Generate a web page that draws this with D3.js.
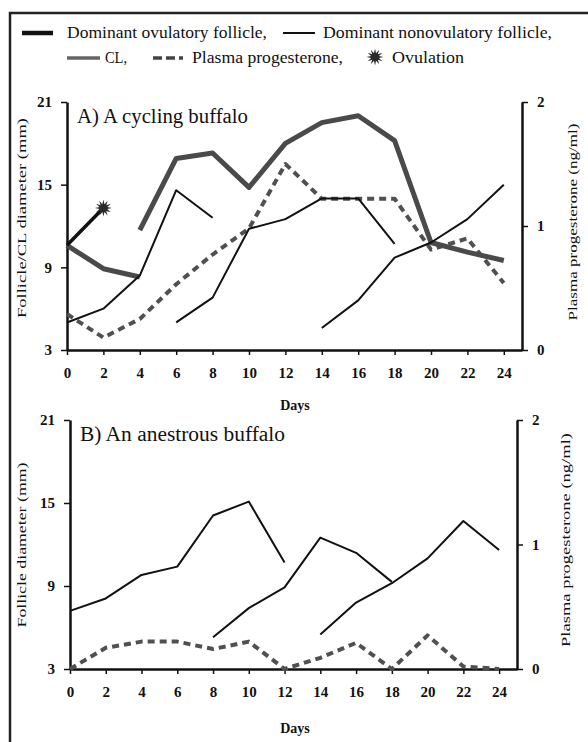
<!DOCTYPE html>
<meta charset="utf-8" />
<style>
  body { margin: 0; background: #fff; }
  svg { display: block; }
  text { font-family: 'Liberation Serif', 'Times New Roman', Times, serif; fill: #111; }
  .tick text { font-weight: bold; font-size: 15px; }
  .axis path, .axis line { stroke: #111; }
  .axis path { stroke-width: 2.5px; }
  .axis line { stroke-width: 1.5px; }
  .line { fill: none; stroke-linejoin: round; }
</style>
<svg width="588" height="742" font-family="Liberation Serif, serif"></svg>
<script src="https://d3js.org/d3.v7.min.js"></script>
<script>
  // ---- data ----
  var dayTicks = [0, 2, 4, 6, 8, 10, 12, 14, 16, 18, 20, 22, 24];
  var leftTicks = [3, 9, 15, 21];
  var rightTicks = [0, 1, 2];

  // A) cycling buffalo: [day, diameter mm]
  var aOvulatory = [[0, 10.6], [2, 13.3]];
  var aOvulation = [[2, 13.3]];
  var aCL1 = [[0, 10.6], [2, 8.9], [4, 8.3]];
  var aCL2 = [[4, 11.7], [6, 16.9], [8, 17.3], [10, 14.8], [12, 18.0], [14, 19.5],
              [16, 20.0], [18, 18.2], [20, 10.8], [22, 10.1], [24, 9.5]];
  var aNonov1 = [[0, 5.0], [2, 6.0], [4, 8.4], [6, 14.6], [8, 12.6]];
  var aNonov2 = [[6, 5.0], [8, 6.8], [10, 11.8], [12, 12.5], [14, 14.0], [16, 14.0], [18, 10.7]];
  var aNonov3 = [[14, 4.6], [16, 6.6], [18, 9.7], [20, 10.8], [22, 12.5], [24, 15.0]];
  var aP4 = [0.29, 0.10, 0.25, 0.53, 0.77, 0.98, 1.50, 1.22, 1.22, 1.22, 0.81, 0.90, 0.54];

  // B) anestrous buffalo
  var bNonov1 = [[0, 7.2], [2, 8.1], [4, 9.8], [6, 10.4], [8, 14.1], [10, 15.1], [12, 10.7]];
  var bNonov2 = [[8, 5.3], [10, 7.4], [12, 8.9], [14, 12.5], [16, 11.4], [18, 9.3]];
  var bNonov3 = [[14, 5.5], [16, 7.8], [18, 9.2], [20, 11.0], [22, 13.7], [24, 11.6]];
  var bP4 = [0.0, 0.17, 0.22, 0.22, 0.16, 0.22, 0.0, 0.09, 0.21, 0.0, 0.27, 0.02, 0.0];

  var svg = d3.select('svg');

  // frame
  svg.append('path')
    .attr('d', 'M10,742V13H588')
    .attr('fill', 'none')
    .attr('stroke', '#222')
    .attr('stroke-width', 2.5);

  var styles = {
    ovulatory: { stroke: '#111', width: 3.5, dash: null },
    nonov: { stroke: '#111', width: 2, dash: null },
    cl: { stroke: '#4a4a4a', width: 5, dash: null },
    p4: { stroke: '#505050', width: 4, dash: '7,5' },
  };

  function star(g, cx, cy) {
    var pts = d3.range(24).map(function (i) {
      return [i * Math.PI / 12, i % 2 ? 4 : 8.5];
    });
    g.append('path')
      .attr('d', d3.lineRadial().curve(d3.curveLinearClosed)(pts))
      .attr('transform', 'translate(' + cx + ',' + cy + ')')
      .attr('fill', '#2a2a2a');
  }

  // ---- legend ----
  var leg = svg.append('g');
  function legLine(x1, x2, y, st) {
    leg.append('line')
      .attr('x1', x1).attr('x2', x2).attr('y1', y).attr('y2', y)
      .attr('stroke', st.stroke)
      .attr('stroke-width', st.width)
      .attr('stroke-dasharray', st.dash);
  }
  function legText(x, y, s, len) {
    leg.append('text')
      .attr('x', x).attr('y', y)
      .attr('font-size', 16)
      .attr('textLength', len)
      .attr('lengthAdjust', 'spacingAndGlyphs')
      .text(s);
  }
  legLine(22, 53, 33, { stroke: '#111', width: 4.5 });
  legText(67, 38, 'Dominant ovulatory follicle,', 200);
  legLine(283, 315, 33, styles.nonov);
  legText(323, 38, 'Dominant nonovulatory follicle,', 229);
  legLine(67, 100, 58, { stroke: '#666', width: 3.5 });
  legText(105, 63, 'CL,', 22);
  legLine(153, 183, 58, { stroke: '#444', width: 3.5, dash: '9,4' });
  legText(192, 63, 'Plasma progesterone,', 151);
  star(leg, 375, 57);
  legText(392, 63, 'Ovulation', 72);

  // ---- panels ----
  function panel(cfg) {
    var g = svg.append('g');
    var x = d3.scaleLinear().domain([0, 25]).range([cfg.left, cfg.right]);
    var y = d3.scaleLinear().domain([3, 21]).range([cfg.bottom, cfg.top]);
    var y2 = d3.scaleLinear().domain([0, 2]).range([cfg.bottom, cfg.top]);

    g.append('g')
      .attr('class', 'axis')
      .attr('transform', 'translate(0,' + cfg.bottom + ')')
      .call(d3.axisBottom(x).tickValues(dayTicks).tickSize(5).tickSizeOuter(0).tickPadding(12))
      .call(function (a) { a.select('.domain').attr('stroke-width', 3); });

    g.append('g')
      .attr('class', 'axis')
      .attr('transform', 'translate(' + cfg.left + ',0)')
      .call(d3.axisLeft(y).tickValues(leftTicks).tickSize(6).tickSizeOuter(0).tickPadding(9));

    g.append('g')
      .attr('class', 'axis')
      .attr('transform', 'translate(' + cfg.right + ',0)')
      .call(d3.axisRight(y2).tickValues(rightTicks).tickFormat(d3.format('d'))
        .tickSize(6).tickSizeOuter(0).tickPadding(9));

    var line = d3.line()
      .x(function (d) { return x(d[0]); })
      .y(function (d) { return y(d[1]); });
    var lineP4 = d3.line()
      .x(function (d, i) { return x(dayTicks[i]); })
      .y(function (d) { return y2(d); });

    cfg.series.forEach(function (s) {
      var st = styles[s.type];
      g.append('path')
        .attr('class', 'line')
        .attr('d', s.type === 'p4' ? lineP4(s.data) : line(s.data))
        .attr('stroke', st.stroke)
        .attr('stroke-width', st.width)
        .attr('stroke-dasharray', st.dash);
    });

    (cfg.stars || []).forEach(function (d) {
      star(g, x(d[0]), y(d[1]));
    });

    g.append('text')
      .attr('x', cfg.left + 10)
      .attr('y', cfg.top + 21)
      .attr('font-size', 20)
      .attr('textLength', cfg.titleLen)
      .attr('lengthAdjust', 'spacingAndGlyphs')
      .text(cfg.title);

    g.append('text')
      .attr('x', 295)
      .attr('y', cfg.daysY)
      .attr('text-anchor', 'middle')
      .attr('font-size', 14)
      .attr('font-weight', 'bold')
      .text('Days');

    function ylab(px, cy, len, s) {
      g.append('text')
        .attr('transform', 'translate(' + px + ',' + cy + ') rotate(-90)')
        .attr('text-anchor', 'middle')
        .attr('dy', '0.35em')
        .attr('font-size', 12)
        .attr('textLength', len)
        .attr('lengthAdjust', 'spacingAndGlyphs')
        .text(s);
    }
    ylab(22, cfg.lab[0], cfg.lab[1], cfg.leftLabel);
    ylab(cfg.rx, cfg.lab[2], cfg.lab[3], 'Plasma progesterone (ng/ml)');
  }

  panel({
    left: 67, right: 522, top: 102, bottom: 350, daysY: 410,
    title: 'A) A cycling buffalo', titleLen: 171,
    leftLabel: 'Follicle/CL diameter (mm)',
    rx: 573, lab: [218, 200, 222, 197],
    series: [
      { type: 'p4', data: aP4 },
      { type: 'cl', data: aCL1 },
      { type: 'cl', data: aCL2 },
      { type: 'nonov', data: aNonov1 },
      { type: 'nonov', data: aNonov2 },
      { type: 'nonov', data: aNonov3 },
      { type: 'ovulatory', data: aOvulatory },
    ],
    stars: aOvulation,
  });

  panel({
    left: 70, right: 517, top: 420, bottom: 669, daysY: 733,
    title: 'B) An anestrous buffalo', titleLen: 205,
    leftLabel: 'Follicle diameter (mm)',
    rx: 566, lab: [545, 165, 540, 214],
    series: [
      { type: 'p4', data: bP4 },
      { type: 'nonov', data: bNonov1 },
      { type: 'nonov', data: bNonov2 },
      { type: 'nonov', data: bNonov3 },
    ],
  });
</script>
